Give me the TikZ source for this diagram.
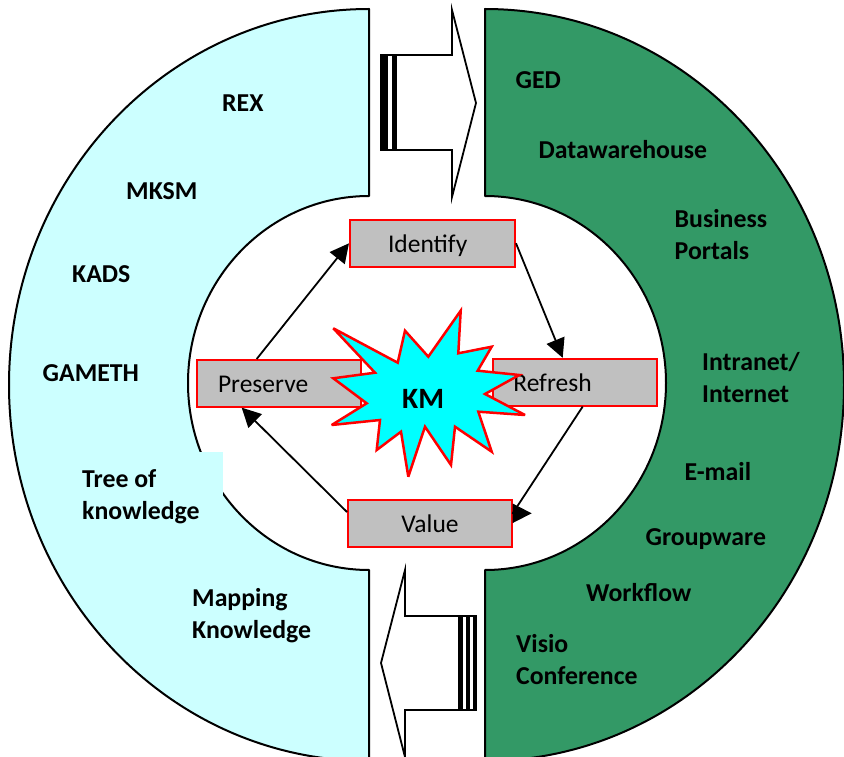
\documentclass[tikz,border=0pt]{standalone}
\usepackage{fontspec}
\setmainfont{Carlito}
\usetikzlibrary{arrows.meta}
\definecolor{lcyan}{RGB}{204,255,255}
\definecolor{sgreen}{RGB}{51,153,102}
\definecolor{boxgray}{RGB}{192,192,192}
\definecolor{starcyan}{RGB}{0,255,255}
\newcommand{\twol}[2]{\begin{tabular}[b]{@{}l@{}}#1\\#2\end{tabular}}
\begin{document}
\begin{tikzpicture}[x=1pt,y=-1pt,
  shapeline/.style={draw=black, line width=2pt, line join=round},
  lbl/.style={font=\fontsize{25.8}{32}\selectfont\bfseries, inner sep=0pt, anchor=base west},
  stepbox/.style={draw=red, fill=boxgray, line width=2pt, inner sep=0pt, minimum height=46.7pt, text height=18pt, text depth=0pt, font=\fontsize{25.5}{30}\selectfont},
  conn/.style={draw=black, line width=1.8pt, line join=round, -{Triangle[length=19pt,width=19pt]}},
  blockarrow/.style={draw=black, fill=white, line width=1.8pt, line join=miter},
]
\useasboundingbox (0,0) rectangle (844,757);
\begin{scope}
\clip (0,0) rectangle (844,757);
\path[shapeline, fill=lcyan] (369,9) arc[start angle=-90, end angle=-270, x radius=360, y radius=376]
  -- (369,570) arc[start angle=90, end angle=270, x radius=181, y radius=187] -- cycle;
\path[shapeline, fill=sgreen] (485,9) arc[start angle=-90, end angle=90, x radius=359, y radius=376]
  -- (485,570) arc[start angle=90, end angle=-90, x radius=181, y radius=187] -- cycle;
\fill[lcyan] (75,451.7) rectangle (222.7,528);
\end{scope}

% left labels
\node[lbl] (rex) at (222,111.7) {REX};
\node[lbl] (mksm) at (126,200) {MKSM};
\node[lbl] (kads) at (72,282.7) {KADS};
\node[lbl] (gameth) at (42.5,381.7) {GAMETH};
\node[lbl] (tree) at (82,519) {\twol{Tree of}{knowledge}};
\node[lbl] (mapping) at (192,638.3) {\twol{Mapping}{Knowledge}};
% right labels
\node[lbl] (ged) at (515.5,89) {GED};
\node[lbl] (dw) at (538.5,159) {Datawarehouse};
\node[lbl] (bp) at (674.5,259) {\twol{Business}{Portals}};
\node[lbl] (ii) at (702,402) {\twol{Intranet/}{Internet}};
\node[lbl] (email) at (684.5,480.7) {E-mail};
\node[lbl] (gw) at (645.5,545) {Groupware};
\node[lbl] (wf) at (586,601.7) {Workflow};
\node[lbl] (vc) at (516,684.3) {\twol{Visio}{Conference}};

% top block arrow (right)
\draw[blockarrow] (396,55) -- (452,55) -- (452,10) -- (476,103) -- (452,197) -- (452,150) -- (396,150) -- cycle;
\draw[blockarrow] (381,55) rectangle (396,150);
\fill[black] (381,55) rectangle (388,150);
\fill[black] (392,55) rectangle (396,150);
% bottom block arrow (left)
\draw[blockarrow] (459,616) -- (405,616) -- (405,570) -- (381,663) -- (405,757) -- (405,710) -- (459,710) -- cycle;
\draw[blockarrow] (459,616) rectangle (476,710);
\fill[black] (459,616) rectangle (463,710);
\fill[black] (466,616) rectangle (470,710);
\fill[black] (472.5,616) rectangle (476,710);

% boxes
\node[stepbox, minimum width=165pt, text width=125pt, align=left, inner xsep=20pt, text width=125pt] (identify) at (432.5,243.3) {\hspace*{18pt}Identify};
\node[stepbox, minimum width=164pt, text width=122pt, align=left, inner xsep=21pt] (preserve) at (279,383.3) {Preserve};
\node[stepbox, minimum width=163.7pt, text width=123.7pt, align=left, inner xsep=20pt] (refresh) at (575.2,382.2) {Refresh};
\node[stepbox, minimum width=164pt] (value) at (430,523.5) {Value};

% connectors
\coordinate (vbase) at (512.7,513.3);
\coordinate (vtip) at (531.7,513.3);
\draw[conn] ([xshift=-22.3pt]preserve.north) -- (identify.west);
\draw[conn] (identify.east) -- ([xshift=-12.5pt]refresh.north);
\draw[conn] ([xshift=7.5pt]refresh.south) -- (vbase) -- (vtip);
\draw[conn] ([yshift=11.5pt]value.west) -- ([xshift=-37.3pt]preserve.south);

% starburst
\draw[draw=red, fill=starcyan, line width=2.5pt, line join=miter, miter limit=4]
  (333.3,328.3) -- (397.7,362.7) -- (405,330.7) -- (428.3,356.7) -- (460.7,310.7)
  -- (458.3,353.3) -- (491.7,346.7) -- (477.7,370.7) -- (519.3,375) -- (485,394)
  -- (525,415) -- (478.3,411.7) -- (491.7,451.7) -- (455,426.7) -- (451,465)
  -- (425,426.7) -- (408.3,476.7) -- (401,431.7) -- (376.7,450) -- (380,420)
  -- (331.7,425) -- (366.7,403.3) -- (333.3,378.3) -- (375,372.7) -- cycle;
\node[font=\fontsize{29.5}{30}\selectfont\bfseries, inner sep=0pt, anchor=base] (km) at (423.2,408.3) {KM};
\end{tikzpicture}
\end{document}
